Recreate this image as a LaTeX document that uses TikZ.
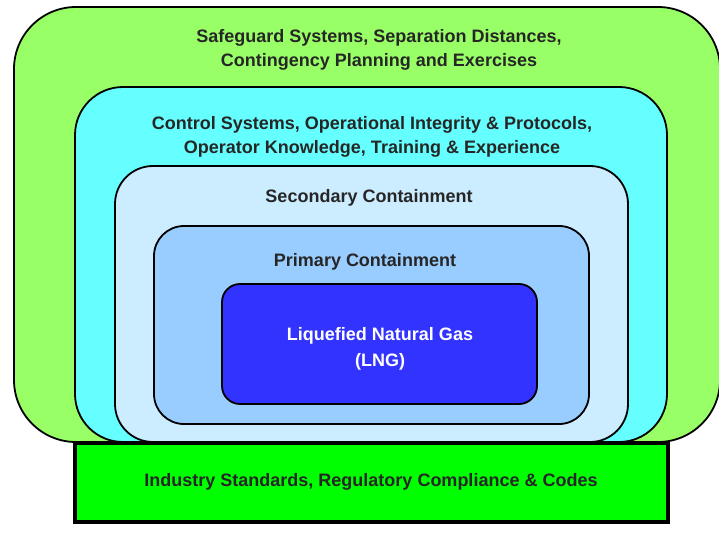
\documentclass[tikz,border=0pt]{standalone}
\usepackage{fontspec}
\setmainfont{Liberation Sans}
\definecolor{safegreen}{HTML}{99FF66}
\definecolor{ctrlcyan}{HTML}{66FFFF}
\definecolor{secblue}{HTML}{CCECFF}
\definecolor{primblue}{HTML}{99CCFF}
\definecolor{lngblue}{HTML}{3333FF}
\definecolor{basegreen}{HTML}{00FF00}
\begin{document}
\begin{tikzpicture}[x=1pt,y=-1pt,
  layer/.style={draw=black, line width=1.8pt, inner sep=0pt, outer sep=0pt},
  label/.style={font=\fontsize{18}{24.5}\selectfont\bfseries, align=center, inner sep=0pt, text=black!85}]
\useasboundingbox (0,0) rectangle (719,537);
% nested layers of protection, outermost first
\node[layer, fill=safegreen, rounded corners=62pt, minimum width=706pt, minimum height=435pt] (safeguard) at (367,224.5) {};
\node[layer, fill=ctrlcyan, rounded corners=48pt, minimum width=592pt, minimum height=355pt] (control) at (371,264.5) {};
\node[layer, fill=secblue, rounded corners=38pt, minimum width=513pt, minimum height=276pt] (secondary) at (371.5,304) {};
\node[layer, fill=primblue, rounded corners=30pt, minimum width=435pt, minimum height=198pt] (primary) at (371.5,325) {};
\node[layer, fill=lngblue, rounded corners=18pt, minimum width=315pt, minimum height=120pt] (lng) at (379.5,344) {};
% foundation bar
\node[draw=black, line width=3.5pt, fill=basegreen, minimum width=593pt, minimum height=79pt, inner sep=0pt] (base) at (371.5,482.5) {};
% labels
\node[label] (tsafe) at (379,50) {Safeguard Systems, Separation Distances,\\Contingency Planning and Exercises};
\node[label] (tctrl) at (372,137) {Control Systems, Operational Integrity \& Protocols,\\Operator Knowledge, Training \& Experience};
\node[label] (tsec) at (369,198) {Secondary Containment};
\node[label] (tprim) at (365,262) {Primary Containment};
\node[label, text=white, font=\fontsize{18}{26}\selectfont\bfseries] (tlng) at (380,349) {Liquefied Natural Gas\\(LNG)};
\node[label] (tbase) at (371,482) {Industry Standards, Regulatory Compliance \& Codes};
\end{tikzpicture}
\end{document}
